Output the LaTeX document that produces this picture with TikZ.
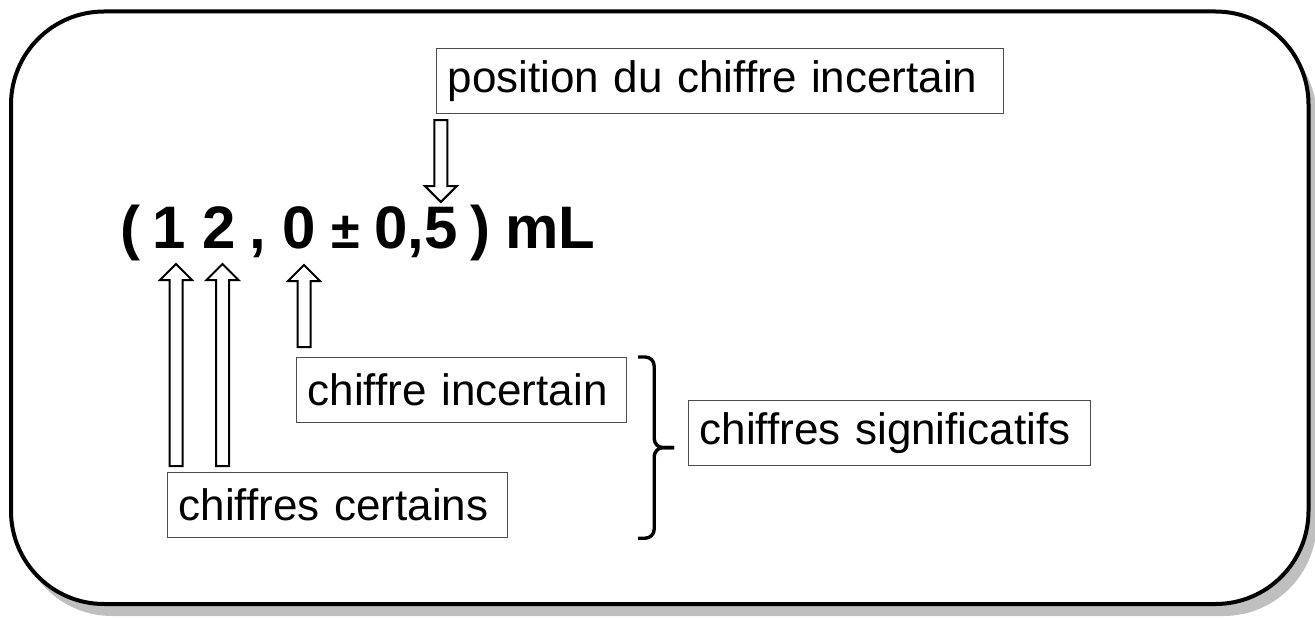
\documentclass[tikz,border=0pt]{standalone}
\usepackage{fontspec}
\setmainfont{Liberation Sans}
\usetikzlibrary{calc}

\tikzset{
  infobox/.style={draw=black!70, line width=1.2pt, inner xsep=11pt, inner ysep=0pt,
    minimum height=65pt, align=left, anchor=north west,
    font=\fontsize{44}{50}\selectfont},
  digit/.style={inner sep=0pt, anchor=base, font=\fontsize{60}{66}\selectfont\bfseries},
  hollow/.style={line width=2pt, to path={
    let \p1=(\tikztostart), \p2=(\tikztotarget), \p3=($(\p2)!16pt!(\p1)$) in
    (\x2-6.5pt,\y1) -- (\x2-6.5pt,\y3) -- (\x2-16pt,\y3) -- (\p2)
    -- (\x2+16pt,\y3) -- (\x2+6.5pt,\y3) -- (\x2+6.5pt,\y1) -- cycle}},
  bracket/.style={line width=3.4pt, rounded corners=9pt},
}

\begin{document}
\begin{tikzpicture}[x=1pt, y=-1pt]

\useasboundingbox (0,0) rectangle (1315,618);
\clip (0,0) rectangle (1315,618);

% frame with shadow
\fill[black!25, rounded corners=93pt] (19,23.5) rectangle (1316.5,616);
\draw[fill=white, line width=4pt, rounded corners=93pt] (11,11.5) rectangle (1308.5,604);

% the measurement
\node[digit] (lpar) at (130,248) {(};
\node[digit] (d1) at (169,248) {1};
\node[digit] (d2) at (219,248) {2};
\node[digit] (comma) at (258,248) {,};
\node[digit] (d3) at (299,248) {0};
\node[digit, font=\fontsize{52}{60}\selectfont\bfseries] (pm) at (345.5,248) {±};
\node[digit] (dd) at (416,248) {0,5};
\node[digit] (rpar) at (480.5,248) {)};
\node[digit] (unit) at (550,248) {mL};

% labels
\node[infobox, text width=545pt] (position) at (436,48) {position du chiffre incertain};
\node[infobox, text width=308pt] (incertain) at (296,357) {chiffre incertain};
\node[infobox, text width=318pt] (certains) at (167,472) {chiffres certains};
\node[infobox, text width=380pt] (significatifs) at (688,400) {chiffres significatifs};

% arrows
\draw[hollow] ($(certains.north -| d1.base)+(7,-6)$) to ($(d1.base)+(7,16)$);
\draw[hollow] ($(certains.north -| d2.base)+(3.5,-6)$) to ($(d2.base)+(3.5,16)$);
\draw[hollow] ($(incertain.north -| d3.base)+(5,-10)$) to ($(d3.base)+(5,17)$);
\coordinate (tip5) at ($(dd.base east)+(-17,-46)$);
\draw[hollow] ($(position.south -| tip5)+(0,6)$) to (tip5);

% brace
\coordinate (btop) at ($(incertain.north east)+(11,0)$);
\coordinate (bbot) at (btop |- certains.south);
\coordinate (bmid) at ($(btop)!.5!(bbot)+(16,0)$);
\coordinate (btip) at ($(bmid)+(20,0)$);
\draw[bracket] (btop) -| (bmid) -- (btip);
\draw[bracket] (bbot) -| (bmid) -- (btip);

\end{tikzpicture}
\end{document}
